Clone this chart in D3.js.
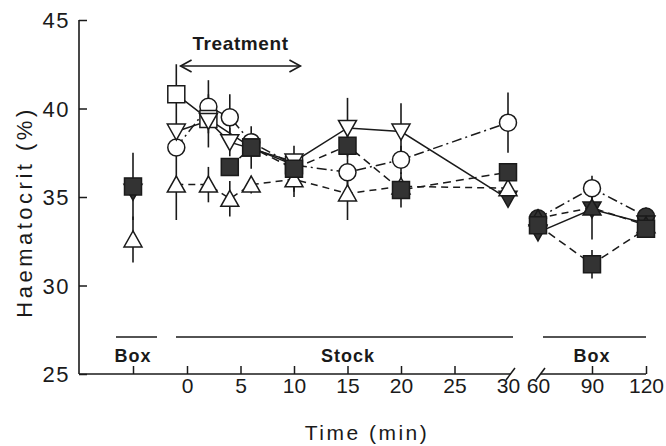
<!DOCTYPE html>
<html><head><meta charset="utf-8">
<script src="https://cdn.jsdelivr.net/npm/d3@7"></script>
<style>body{margin:0;background:#fff}</style>
</head><body>
<svg id="c" width="666" height="446"></svg>
<script>
// ---------- data ----------
const times = ["Box", -1, 2, 4, 6, 10, 15, 20, 30, 60, 90, 120];
const circleMean  = [null, 37.8, 40.1, 39.5, 38.1, 36.8, 36.4, 37.1, 39.2, 33.8, 35.5, 33.9];
const circleErr   = [null, 0,    1.5,  1.3,  0,    0.5,  0.8,  0.8,  1.7,  0,    0.7,  0.5];
const openSqMean  = [null, 40.8, 39.4, null, 37.8, 36.8, null, null, null, null, null, null];
const openSqErr   = [null, 1.7,  0.3,  null, 0,    0,    null, null, null, null, null, null];
const triDownMean = [35.3, 38.7, 39.3, 38.1, null, 37.0, 38.9, 38.7, 34.9, 33.0, 34.3, 33.5];
const triDownErr  = [0,    0,    1.5,  0.8,  null, 0.4,  1.7,  1.6,  0.3,  0,    1.7,  0];
const triUpMean   = [32.6, 35.7, 35.7, 34.9, 35.7, 36.0, 35.2, 35.6, 35.5, 33.8, 34.4, 33.4];
const triUpErr    = [1.3,  2.0,  1.0,  1.0,  0.5,  1.0,  1.5,  0.5,  0.3,  0,    0.4,  0];
const fillSqMean  = [35.6, null, null, 36.7, 37.8, 36.6, 37.9, 35.4, 36.4, 33.4, 31.2, 33.2];
const fillSqErr   = [1.9,  null, null, 0,    1.2,  1.3,  0.6,  1.0,  0.3,  0,    0.8,  0.5];

const yTicks = [25, 30, 35, 40, 45];
const stockTicks = [0, 5, 10, 15, 20, 25, 30];
const postTicks = [90, 120];
const postLabels = [60, 90, 120];
const phaseLabels = ["Box", "Stock", "Box"];

// ---------- layout ----------
const svg = d3.select("#c");
const FONT = "'Liberation Sans', Arial, Helvetica, sans-serif";
const INK = "#1a1a1a";
const mLeft = 79, mTop = 20, mBottom = 374;
const y = d3.scaleLinear().domain([25, 45]).range([mBottom, mTop]);
const xStock = d3.scaleLinear().domain([0, 30]).range([187, 508]);
const xPost = d3.scaleLinear().domain([60, 120]).range([538, 646]);
const xPre = d3.scalePoint().domain(["Box"]).range([133, 133]);
const xPos = t => t === "Box" ? xPre("Box") : (t <= 30 ? xStock(t) : xPost(t));
const phaseOf = t => t === "Box" ? 0 : (t <= 30 ? 1 : 2);

// ---------- axes ----------
const yAxis = d3.axisLeft(y).tickValues(yTicks).tickSize(-8).tickPadding(9);
const gy = svg.append("g").attr("transform", `translate(${mLeft},0)`).call(yAxis);
gy.select(".domain").remove();
gy.selectAll(".tick line").attr("stroke", INK).attr("stroke-width", 1.5);
gy.selectAll(".tick text").attr("font-family", FONT).attr("font-size", 22)
  .attr("letter-spacing", "1.5px").attr("fill", INK).attr("dy", "0.36em");

const gx1 = svg.append("g").attr("transform", `translate(0,${mBottom})`)
  .call(d3.axisBottom(xStock).tickValues(stockTicks).tickSize(-8).tickPadding(4));
const gx2 = svg.append("g").attr("transform", `translate(0,${mBottom})`)
  .call(d3.axisBottom(xPost).tickValues(postTicks).tickSize(-8).tickPadding(4).tickFormat(""));
const gx2l = svg.append("g").attr("transform", `translate(0,${mBottom})`)
  .call(d3.axisBottom(xPost).tickValues(postLabels).tickSize(0).tickPadding(4));
const gx0 = svg.append("g").attr("transform", `translate(0,${mBottom})`)
  .call(d3.axisBottom(xPre).tickSize(-8).tickFormat(""));
[gx1, gx2, gx2l, gx0].forEach(g => {
  g.select(".domain").remove();
  g.selectAll(".tick line").attr("stroke", INK).attr("stroke-width", 1.5);
  g.selectAll(".tick text").attr("font-family", FONT).attr("font-size", 21).attr("fill", INK);
});
gx1.selectAll(".tick").filter(d => d === 30).select("line").remove();

// axis lines
svg.append("line").attr("x1", mLeft).attr("x2", mLeft).attr("y1", mTop).attr("y2", mBottom)
  .attr("stroke", INK).attr("stroke-width", 1.6);
svg.append("line").attr("x1", mLeft).attr("x2", xStock(30) + 3).attr("y1", mBottom).attr("y2", mBottom)
  .attr("stroke", INK).attr("stroke-width", 1.6);
svg.append("line").attr("x1", xPost(60) + 3).attr("x2", xPost(120)).attr("y1", mBottom).attr("y2", mBottom)
  .attr("stroke", INK).attr("stroke-width", 1.6);
[xStock(30) + 3, xPost(60) + 3].forEach(cx => {
  svg.append("line").attr("x1", cx - 5).attr("y1", mBottom + 6).attr("x2", cx + 4).attr("y2", mBottom - 6)
    .attr("stroke", INK).attr("stroke-width", 1.5);
});

// phase bars and labels
const phases = [
  {x0: 116, x1: 157, c: xPre("Box")},
  {x0: 176, x1: xStock(30) + 5, c: 348},
  {x0: xPost(60) + 5, x1: xPost(120), c: xPost(90)}
];
phases.forEach((p, i) => {
  svg.append("line").attr("x1", p.x0).attr("x2", p.x1).attr("y1", 337).attr("y2", 337)
    .attr("stroke", INK).attr("stroke-width", 1.5);
  svg.append("text").attr("x", p.c).attr("y", 362).attr("text-anchor", "middle")
    .attr("font-family", FONT).attr("font-weight", "bold").attr("font-size", 18)
    .attr("letter-spacing", "1px").attr("fill", INK).text(phaseLabels[i]);
});

// axis titles
svg.append("text").attr("x", 367).attr("y", 440).attr("text-anchor", "middle")
  .attr("font-family", FONT).attr("font-size", 21).attr("letter-spacing", "2.5px")
  .attr("fill", INK).text("Time (min)");
svg.append("text").attr("transform", "translate(32,212) rotate(-90)").attr("text-anchor", "middle")
  .attr("font-family", FONT).attr("font-size", 22).attr("letter-spacing", "3.5px")
  .attr("fill", INK).text("Haematocrit (%)");

// treatment arrow
const ay = 66, ax0 = xStock(-0.6), ax1 = xStock(10.6);
svg.append("line").attr("x1", ax0).attr("x2", ax1).attr("y1", ay).attr("y2", ay)
  .attr("stroke", INK).attr("stroke-width", 1.6);
svg.append("path").attr("d", `M${ax0 + 11},${ay - 6}L${ax0},${ay}L${ax0 + 11},${ay + 6}`)
  .attr("fill", "none").attr("stroke", INK).attr("stroke-width", 1.6);
svg.append("path").attr("d", `M${ax1 - 11},${ay - 6}L${ax1},${ay}L${ax1 - 11},${ay + 6}`)
  .attr("fill", "none").attr("stroke", INK).attr("stroke-width", 1.6);
svg.append("text").attr("x", (ax0 + ax1) / 2).attr("y", 50).attr("text-anchor", "middle")
  .attr("font-family", FONT).attr("font-weight", "bold").attr("font-size", 19)
  .attr("letter-spacing", "0.6px").attr("fill", INK).text("Treatment");

// ---------- series ----------
const DARK = "#333";
const series = [
  {mean: circleMean, err: circleErr, shape: "circle", dash: "10,4,2,4", filledAt: [60, 120]},
  {mean: openSqMean, err: openSqErr, shape: "square", dash: null, filledAt: []},
  {mean: triDownMean, err: triDownErr, shape: "triDown", dash: null, filledAt: ["Box", 30, 60, 90, 120]},
  {mean: triUpMean, err: triUpErr, shape: "triUp", dash: "7,5", filledAt: [60, 90, 120]},
  {mean: fillSqMean, err: fillSqErr, shape: "square", dash: "8,5", filledAt: times}
];

function shapePath(shape) {
  if (shape === "circle") return d3.symbol(d3.symbolCircle, Math.PI * 8.5 * 8.5)();
  if (shape === "square") return "M-8.5,-8.5H8.5V8.5H-8.5Z";
  if (shape === "triUp") return "M0,-8.5L9,7.5L-9,7.5Z";
  if (shape === "triDown") return "M0,8.5L9,-7.5L-9,-7.5Z";
}

const lineGen = d3.line().x(d => xPos(d.t)).y(d => y(d.v));
const pts = s => times.map((t, i) => ({t, v: s.mean[i], e: s.err[i]})).filter(d => d.v != null);

// lines: only within a phase (no lines across the axis breaks)
series.forEach(s => {
  const groups = d3.groups(pts(s), d => phaseOf(d.t)).filter(g => g[1].length > 1);
  groups.forEach(([, seg]) => {
    svg.append("path").datum(seg).attr("d", lineGen).attr("fill", "none")
      .attr("stroke", INK).attr("stroke-width", 1.5)
      .attr("stroke-dasharray", s.dash);
  });
});
series.forEach(s => {
  svg.append("g").selectAll("line").data(pts(s).filter(d => d.e > 0)).join("line")
    .attr("x1", d => xPos(d.t)).attr("x2", d => xPos(d.t))
    .attr("y1", d => y(d.v - d.e)).attr("y2", d => y(d.v + d.e))
    .attr("stroke", INK).attr("stroke-width", 1.6);
});
series.forEach(s => {
  svg.append("g").selectAll("path").data(pts(s)).join("path")
    .attr("d", shapePath(s.shape))
    .attr("transform", d => `translate(${xPos(d.t)},${y(d.v)})`)
    .attr("fill", d => s.filledAt.includes(d.t) ? DARK : "#fff")
    .attr("stroke", INK).attr("stroke-width", 1.5);
});
</script>
</body></html>
